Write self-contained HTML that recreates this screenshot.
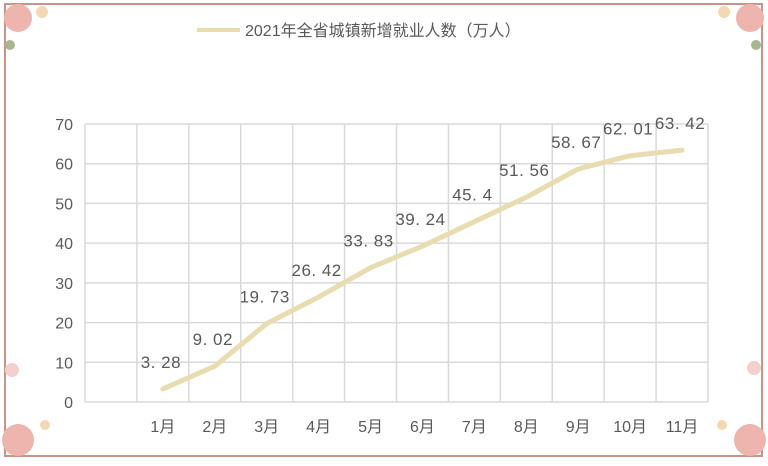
<!DOCTYPE html>
<html><head><meta charset="utf-8"><style>
body{margin:0;background:#fff;}
svg text{font-family:"Liberation Sans","Noto Sans CJK SC",sans-serif;}
</style></head><body>
<svg id="c" width="768" height="461" viewBox="0 0 768 461">
<rect x="0" y="0" width="768" height="461" fill="#fff"/>
<rect x="5" y="4" width="757" height="452" fill="none" stroke="#c9928a" stroke-width="2"/>
<g>
<circle cx="18" cy="18" r="14" fill="#eeb4ae"/><circle cx="42" cy="12" r="6" fill="#f3d9b3"/><circle cx="10" cy="45" r="5" fill="#a8b68f"/>
<circle cx="750" cy="18" r="14" fill="#eeb4ae"/><circle cx="724" cy="12" r="6" fill="#f3d9b3"/><circle cx="756" cy="45" r="5" fill="#a8b68f"/>
<circle cx="18" cy="440" r="16" fill="#eeb4ae"/><circle cx="12" cy="370" r="7" fill="#f2d0cc"/><circle cx="45" cy="425" r="5" fill="#f3d9b3"/>
<circle cx="750" cy="440" r="16" fill="#eeb4ae"/><circle cx="754" cy="368" r="7" fill="#f2d0cc"/><circle cx="722" cy="425" r="5" fill="#f3d9b3"/>
</g>
<line x1="197" y1="30" x2="240" y2="30" stroke="#e8dcb0" stroke-width="4"/>
<text x="245" y="36" font-size="16" fill="#595959">2021年全省城镇新增就业人数（万人）</text>
<g id="grid"></g><g id="lbl"></g>
</svg>
<script>
const categories=["1月","2月","3月","4月","5月","6月","7月","8月","9月","10月","11月"];
const values=[3.28,9.02,19.73,26.42,33.83,39.24,45.4,51.56,58.67,62.01,63.42];
const yTicks=[0,10,20,30,40,50,60,70];
const NS="http://www.w3.org/2000/svg";
const L=85,R=708,T=124,B=402,ncol=12,ymax=70;
const cw=(R-L)/ncol;
const x=i=>L+(i+1.5)*cw;
const y=v=>B-(v/ymax)*(B-T);
const g=document.getElementById('grid'),lb=document.getElementById('lbl');
function mk(t,a,p){const e=document.createElementNS(NS,t);for(const k in a)e.setAttribute(k,a[k]);(p||g).appendChild(e);return e;}
yTicks.forEach(v=>{
 const l=mk('line',{x1:L,x2:R,y1:y(v),y2:y(v),stroke:'#d9d9d9','stroke-width':1.5});
 
 
 const t=mk('text',{x:73,y:y(v)+6,'text-anchor':'end','font-size':16,fill:'#595959'},lb);
 t.textContent=v;
 
 
});
for(let i=0;i<=ncol;i++){
 const l=mk('line',{x1:L+i*cw,x2:L+i*cw,y1:T,y2:B,stroke:'#d9d9d9','stroke-width':1.5});
 
 
}
categories.forEach((c,i)=>{
 const t=mk('text',{x:x(i),y:432,'text-anchor':'middle','font-size':16,fill:'#595959'},lb);
 t.textContent=c;
 
 
});
const p=mk('polyline',{points:values.map((v,i)=>x(i)+','+y(v)).join(' '),fill:'none',stroke:'#e8dcb0','stroke-width':5,'stroke-linejoin':'round','stroke-linecap':'round'},lb);


values.forEach((v,i)=>{
 const t=mk('text',{x:x(i)-2,y:y(v)-21,'text-anchor':'middle','font-size':17,fill:'#595959','letter-spacing':'0.5'},lb);
 t.textContent=String(v).replace('.','. ');
 
 
});
</script>
</body></html>
